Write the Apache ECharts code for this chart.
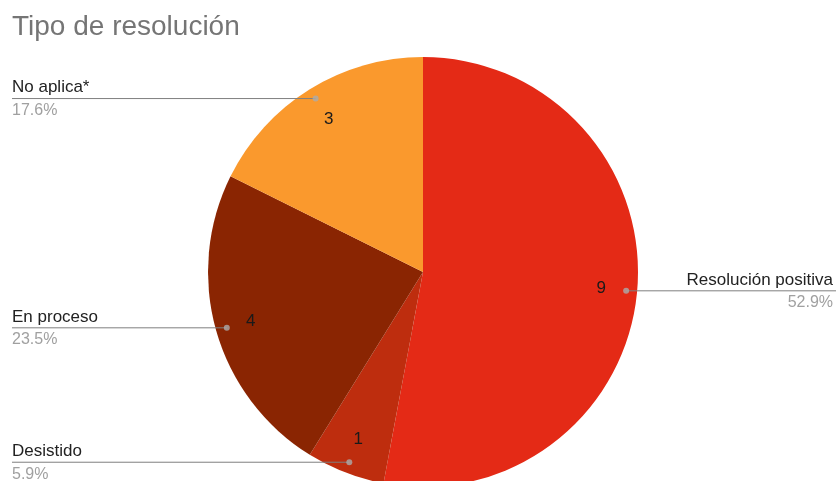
<!DOCTYPE html>
<html><head><meta charset="utf-8">
<script src="https://cdn.jsdelivr.net/npm/echarts@6/dist/echarts.min.js"></script>
<style>html,body{margin:0;padding:0;background:#fff}#c{width:836px;height:481px}</style>
</head><body><div id="c"></div>
<script>
const titleText = 'Tipo de resolución';
const categories = ['Resolución positiva', 'Desistido', 'En proceso', 'No aplica*'];
const counts = [9, 1, 4, 3];
const colors = ['#e42a16', '#be2d0e', '#8a2502', '#fa992d'];

const CX = 423, CY = 272, R = 215, DOT_R = 204, VAL_R0 = 137;
const FONT = '"Liberation Sans", Arial, sans-serif';
const total = counts.reduce((a, b) => a + b, 0);
const pieData = categories.map((n, i) => ({ name: n, value: counts[i] }));
const mids = []; let acc = 0;
counts.forEach(v => { mids.push(acc + v / 2); acc += v; });

const chart = echarts.init(document.getElementById('c'), null, { renderer: 'canvas' });
chart.setOption({
  animation: false,
  title: { text: titleText, left: 7, top: 8,
    textStyle: { fontFamily: FONT, fontSize: 28, fontWeight: 'normal', color: '#757575' } },
  polar: { center: [CX, CY], radius: R },
  angleAxis: { type: 'value', min: 0, max: total, startAngle: 90, clockwise: true, show: false },
  radiusAxis: { type: 'value', min: 0, max: 1, show: false },
  series: [
    { type: 'pie', center: [CX, CY], radius: R, startAngle: 90, clockwise: true,
      data: pieData, color: colors, label: { show: false }, labelLine: { show: false },
      itemStyle: { borderWidth: 0 }, silent: true, z: 1 },
    { type: 'pie', center: [CX, CY], radius: [VAL_R0, R], startAngle: 90, clockwise: true,
      data: pieData, itemStyle: { color: 'rgba(0,0,0,0)', borderWidth: 0 },
      label: { show: true, position: 'inside', formatter: '{c}', fontFamily: FONT, fontSize: 17, color: '#1a1a1a' },
      labelLine: { show: false }, silent: true, z: 3 },
    { type: 'pie', center: [CX, CY], radius: DOT_R, startAngle: 90, clockwise: true,
      data: pieData, itemStyle: { color: 'rgba(0,0,0,0)', borderWidth: 0 },
      avoidLabelOverlap: false,
      label: { show: true, position: 'outside', alignTo: 'edge', edgeDistance: 12,
        formatter: p => '{n|' + p.name + '}\n{p|' + (p.value / total * 100).toFixed(1) + '%}',
        rich: {
          n: { fontFamily: FONT, fontSize: 17, color: '#222', lineHeight: 24 },
          p: { fontFamily: FONT, fontSize: 16, color: '#a0a0a0', lineHeight: 22 }
        } },
      labelLine: { show: true, length: 0, length2: 10, lineStyle: { color: '#7f7f7f', width: 1 } },
      labelLayout: function (params) {
        const pts = params.labelLinePoints;
        if (!pts) return {};
        const isLeft = params.labelRect.x < CX;
        pts[2][0] = isLeft ? 12 : 836;
        return { x: isLeft ? 12 : 833, align: isLeft ? 'left' : 'right', labelLinePoints: pts };
      },
      silent: true, z: 2 },
    { type: 'scatter', coordinateSystem: 'polar', data: mids.map(m => [DOT_R / R, m]),
      symbolSize: 6, itemStyle: { color: '#ababab' }, silent: true, z: 5 }
  ]
});
</script></body></html>
